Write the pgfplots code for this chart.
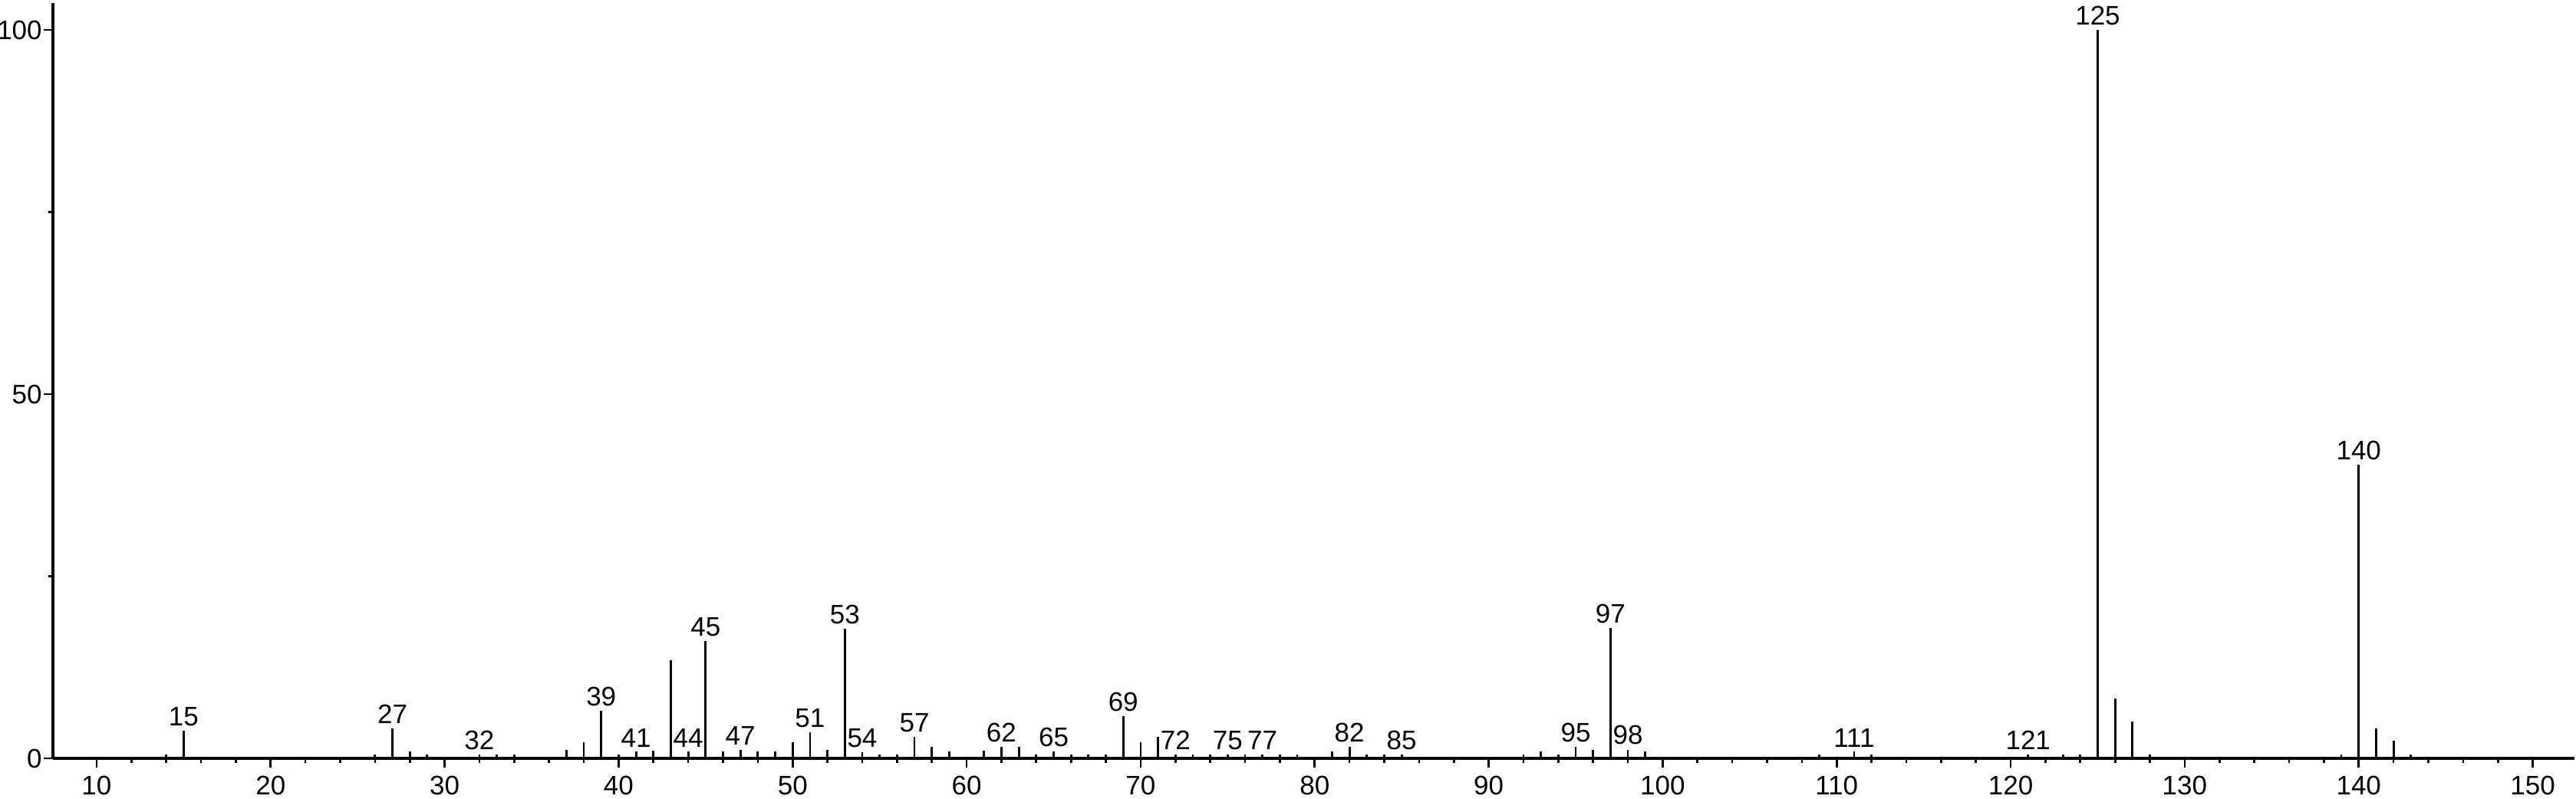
\documentclass[border=0pt]{standalone}
\usepackage{fontspec}
\setmainfont{Liberation Sans}
\usepackage{pgfplots}
\usepackage{pgfplotstable}
\pgfplotsset{compat=1.18}
\pgfplotstableread{
x y
14 0.5
26 0.5
28 0.9
29 0.5
33 0.5
34 0.5
37 1.2
38 2.2
40 0.5
42 1.0
43 13.5
46 0.9
48 0.9
49 0.9
50 2.2
52 1.2
55 0.5
56 0.5
58 1.6
59 0.9
61 1.0
63 1.6
64 0.5
66 0.5
67 0.5
68 0.5
70 2.2
71 2.9
73 0.5
74 0.5
76 0.5
78 0.5
79 0.5
81 0.9
83 0.5
84 0.5
92 0.5
93 0.9
94 0.5
96 1.2
99 0.9
109 0.5
112 0.5
123 0.5
124 0.5
126 8.2
127 5.1
128 0.5
139 0.5
141 4.1
142 2.4
143 0.5
}\unlabelled
\pgfplotstableread{
x y label
15 3.8 15
27 4.1 27
32 0.5 32
39 6.5 39
41 0.9 41
44 0.9 44
45 16.1 45
47 1.2 47
51 3.6 51
53 17.8 53
54 0.8 54
57 2.9 57
62 1.6 62
65 0.9 65
69 5.8 69
72 0.5 72
75 0.5 75
77 0.5 77
82 1.6 82
85 0.5 85
95 1.6 95
97 17.9 97
98 1.2 98
111 0.9 111
121 0.5 121
125 100 125
140 40.3 140
}\labelled
\begin{document}
\begin{tikzpicture}
\begin{axis}[
  scale only axis, width=986.1pt, height=295.5pt,
  xmin=7.49, xmax=152.4, ymin=0, ymax=103.7,
  axis x line=bottom, axis y line=left,
  axis line style={-, line width=1.1pt, black},
  xtick={10,20,...,150}, minor x tick num=4,
  ytick={0,50,100}, minor ytick={25,75},
  tick align=outside, major tick length=3.6pt, minor tick length=1.7pt,
  every tick/.style={line width=0.8pt, black},
  tick label style={font=\fontsize{10.5}{12}\selectfont},
  yticklabel style={inner sep=0.5pt},
  xticklabel style={inner sep=2pt, yshift=-1.2pt},
  /pgf/number format/assume math mode=true,
  clip=false,
]
\addplot[ycomb, black, line width=0.85pt, mark=none] table[x=x, y=y] {\unlabelled};
\addplot[ycomb, black, line width=0.85pt, mark=none,
  nodes near coords, point meta=explicit symbolic,
  nodes near coords style={anchor=south, inner sep=1.5pt, black, font=\fontsize{10.5}{12}\selectfont}]
  table[x=x, y=y, meta=label] {\labelled};
\end{axis}
\pgfresetboundingbox
\useasboundingbox (-20.7pt,-15.9pt) rectangle (986.7pt,296.7pt);
\end{tikzpicture}
\end{document}
